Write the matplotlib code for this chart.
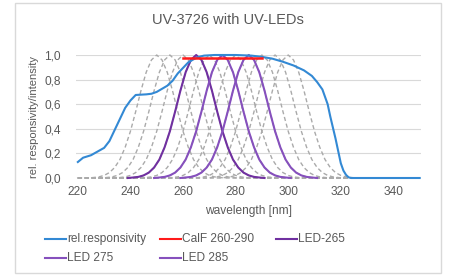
import numpy as np
import matplotlib
matplotlib.use('Agg')
import matplotlib.pyplot as plt
from matplotlib.lines import Line2D
from matplotlib.patches import Rectangle

plt.rcParams['font.family'] = ['Liberation Sans', 'DejaVu Sans']

# relative responsivity of the UV-3726 sensor
resp_nm = [220, 222, 225, 230, 232, 234, 236, 238, 240, 242, 246, 248, 250, 252, 254, 256,
           258, 260, 262, 264, 266, 268, 272, 280, 286, 290, 294, 298, 302, 306, 309, 311,
           313, 315, 316, 317, 318, 319, 320, 321, 322, 323, 324, 350]
resp_val = [0.13, 0.165, 0.185, 0.245, 0.30, 0.39, 0.48, 0.57, 0.63, 0.675, 0.68, 0.685, 0.70,
            0.725, 0.75, 0.79, 0.85, 0.895, 0.94, 0.965, 0.985, 0.995, 1.0, 1.0, 0.995, 0.985,
            0.97, 0.945, 0.915, 0.875, 0.83, 0.78, 0.72, 0.60, 0.50, 0.41, 0.32, 0.22, 0.12,
            0.06, 0.025, 0.005, 0.0, 0.0]

# CalF 260-290 calibration level
calf_nm = [260, 290]
calf_val = [0.973, 0.973]

# LED emission profile (relative intensity vs offset from peak, nm)
led_offset = [-26, -24, -22, -20, -18, -16, -14, -12, -10, -8, -6, -4, -2, 0,
              2, 4, 6, 8, 10, 12, 14, 16, 18, 20, 22, 24, 26]
led_shape = [0.0, 0.004, 0.009, 0.021, 0.044, 0.085, 0.15, 0.25, 0.38, 0.54, 0.71, 0.86, 0.96,
             1.0, 0.96, 0.86, 0.71, 0.54, 0.38, 0.25, 0.15, 0.085, 0.044, 0.021, 0.009, 0.004, 0.0]

grey_peaks = [250, 255, 260, 265, 270, 275, 280, 285, 290, 295, 300]
led_names = ['LED-265', 'LED 275', 'LED 285']
led_peaks = [265, 275, 285]
led_colors = ['#7030a0', '#8650bd', '#8650bd']

xticks = [220, 240, 260, 280, 300, 320, 340]
yticks = [0.0, 0.2, 0.4, 0.6, 0.8, 1.0]
ylabels = ['0,0', '0,2', '0,4', '0,6', '0,8', '1,0']

txt = '#595959'
fig = plt.figure(figsize=(4.49, 2.76), dpi=100)
fig.add_artist(Rectangle((15 / 449, 3 / 276), 426 / 449, 270 / 276, transform=fig.transFigure,
                         fill=False, edgecolor='#d9d9d9', lw=1))
ax = fig.add_axes([76 / 449, 1 - 178 / 276, 345 / 449, 123 / 276])

off = np.array(led_offset)
for p in grey_peaks:
    x = np.concatenate(([220], off + p, [350]))
    y = np.concatenate(([0], led_shape, [0]))
    ax.plot(x, y, color='#aaaaaa', lw=1.0, ls=(0, (3, 2)), zorder=2)

for name, p, c in zip(led_names, led_peaks, led_colors):
    ax.plot(off + p, led_shape, color=c, lw=1.5, zorder=3)

ax.plot(resp_nm, resp_val, color='#3389d4', lw=1.5, zorder=4)
ax.plot(calf_nm, calf_val, color='#ff1a1a', lw=1.8, zorder=5)

ax.set_xlim(219.3, 350.5)
ax.set_ylim(0, 1.0)
ax.set_xticks(xticks)
ax.set_yticks(yticks)
ax.set_yticklabels(ylabels)
ax.tick_params(length=0, labelsize=8.6, colors=txt)
ax.tick_params(axis='y', pad=11)
ax.tick_params(axis='x', pad=6)
ax.grid(axis='y', color='#d9d9d9', lw=0.8)
ax.set_axisbelow(True)
for s in ax.spines.values():
    s.set_visible(False)
for ln in ax.lines:
    ln.set_clip_on(False)

ax.set_xlabel('wavelength [nm]', fontsize=8.6, color=txt, labelpad=5)
ax.set_ylabel('rel. responsivity/intensity', fontsize=8.0, color=txt, labelpad=4)
fig.text(228 / 449, 1 - 20 / 276, 'UV-3726 with UV-LEDs', ha='center', va='center',
         fontsize=10.5, color=txt)

# legend, Excel style layout
entries = [('rel.responsivity', '#3389d4', 45, 239),
           ('CalF 260-290', '#ff1a1a', 160, 239),
           (led_names[0], led_colors[0], 276, 239),
           (led_names[1], led_colors[1], 45, 258),
           (led_names[2], led_colors[2], 160, 258)]
for label, c, px, py in entries:
    yy = 1 - py / 276
    fig.add_artist(Line2D([px / 449, (px + 21) / 449], [yy, yy], color=c, lw=1.5,
                          transform=fig.transFigure))
    fig.text((px + 22) / 449, yy, label, ha='left', va='center', fontsize=8.6, color=txt)

fig.savefig('out.png', dpi=100)
